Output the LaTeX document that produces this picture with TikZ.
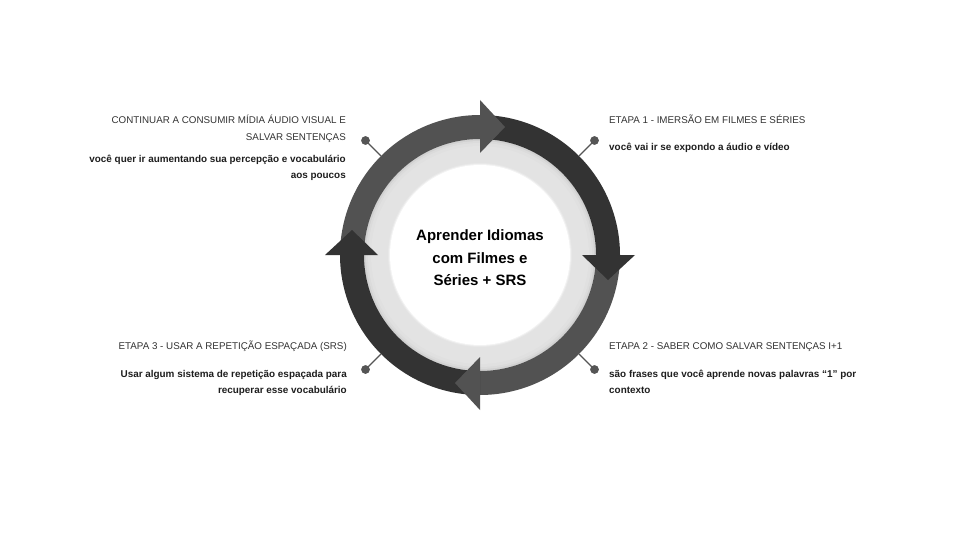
\documentclass[tikz,border=0pt]{standalone}
\usepackage{fontspec}
\setmainfont{Liberation Sans}
\usetikzlibrary{calc}
\definecolor{midgray}{HTML}{525252}
\definecolor{darkgray2}{HTML}{333333}
\definecolor{ringgray}{HTML}{E3E3E3}
\definecolor{headcol}{HTML}{333333}
\definecolor{bodycol}{HTML}{1E1E1E}
\definecolor{leadcol}{HTML}{555555}
\begin{document}
\begin{tikzpicture}[x=1pt,y=-1pt,
  headtxt/.style={font=\fontsize{9.8}{17}\selectfont, text=headcol, inner sep=0pt},
  bodytxt/.style={font=\fontsize{9.9}{16}\selectfont\bfseries, text=bodycol, inner sep=0pt},
  leaddot/.style={circle, fill=leadcol, inner sep=0pt, minimum size=8.5pt},
  leadline/.style={draw=leadcol, line width=1.4pt},
  centertxt/.style={font=\fontsize{15}{22.5}\selectfont\bfseries, text=black, align=center, inner sep=0pt}
]
\useasboundingbox[fill=white] (0,0) rectangle (960,540);
\def\cx{480}\def\cy{255}
\def\Ro{140}\def\Ri{116}\def\Rm{128}
\def\Aw{155}\def\Ai{102}\def\Tl{25}
% light ring and inner white disc
\fill[ringgray] (\cx,\cy) circle[radius=\Ri pt];
\fill[black!18] (\cx,\cy) circle[radius=116pt];
\fill[black!14] (\cx,\cy) circle[radius=114pt];
\fill[black!12] (\cx,\cy) circle[radius=112pt];
\fill[ringgray] (\cx,\cy) circle[radius=109pt];
\fill[black!9] (\cx,\cy) circle[radius=92pt];
\fill[black!5] (\cx,\cy) circle[radius=91pt];
\fill[white] (\cx,\cy) circle[radius=90pt];
% arcs
\newcommand{\ringarc}[3]{%
  \fill[#3] plot[domain=#1:#2,samples=60] ({\cx+\Ro*cos(\x)},{\cy-\Ro*sin(\x)})
     -- plot[domain=#2:#1,samples=60] ({\cx+\Ri*cos(\x)},{\cy-\Ri*sin(\x)}) -- cycle;}
\newcommand{\ringhead}[2]{%
  \fill[#2] ({\cx+\Aw*cos(#1)},{\cy-\Aw*sin(#1)})
     -- ({\cx+\Rm*cos(#1)+\Tl*cos(#1-90)},{\cy-\Rm*sin(#1)-\Tl*sin(#1-90)})
     -- ({\cx+\Ai*cos(#1)},{\cy-\Ai*sin(#1)}) -- cycle;}
\ringarc{180}{90}{midgray}
\ringarc{90}{0}{darkgray2}
\ringarc{0}{-90}{midgray}
\ringarc{-90}{-180}{darkgray2}
\ringhead{90}{midgray}
\ringhead{0}{darkgray2}
\ringhead{-90}{midgray}
\ringhead{180}{darkgray2}
% center text
\node[centertxt] (ctext) at (\cx,258) {Aprender Idiomas\\com Filmes e\\Séries + SRS};
% leaders
\node[leaddot] (d1) at (594.5,140.5) {};
\node[leaddot] (d2) at (594.5,369.5) {};
\node[leaddot] (d3) at (365.5,369.5) {};
\node[leaddot] (d4) at (365.5,140.5) {};
\coordinate (e1) at ({\cx+\Ro*cos(45)},{\cy-\Ro*sin(45)});
\coordinate (e2) at ({\cx+\Ro*cos(-45)},{\cy-\Ro*sin(-45)});
\coordinate (e3) at ({\cx+\Ro*cos(225)},{\cy-\Ro*sin(225)});
\coordinate (e4) at ({\cx+\Ro*cos(135)},{\cy-\Ro*sin(135)});
\draw[leadline] (d1.center) -- (e1);
\draw[leadline] (d2.center) -- (e2);
\draw[leadline] (d3.center) -- (e3);
\draw[leadline] (d4.center) -- (e4);
\fill[leadcol] (d1) circle[radius=4.25pt];
\fill[leadcol] (d2) circle[radius=4.25pt];
\fill[leadcol] (d3) circle[radius=4.25pt];
\fill[leadcol] (d4) circle[radius=4.25pt];
% texts upper right
\node[headtxt, anchor=base west] (h1) at (609,123.5) {ETAPA 1 - IMERSÃO EM FILMES E SÉRIES};
\node[bodytxt, anchor=base west] (b1) at (609,151) {você vai ir se expondo a áudio e vídeo};
% lower right
\node[headtxt, anchor=base west] (h2) at (609,349.5) {ETAPA 2 - SABER COMO SALVAR SENTENÇAS I+1};
\node[bodytxt, anchor=base west] (b2a) at (609,377) {são frases que você aprende novas palavras “1” por};
\node[bodytxt, anchor=base west] (b2b) at (609,393) {contexto};
% lower left
\node[headtxt, anchor=base east] (h3) at (347,349.5) {ETAPA 3 - USAR A REPETIÇÃO ESPAÇADA (SRS)};
\node[bodytxt, anchor=base east] (b3a) at (347,377) {Usar algum sistema de repetição espaçada para};
\node[bodytxt, anchor=base east] (b3b) at (347,393) {recuperar esse vocabulário};
% upper left
\node[headtxt, anchor=base east] (h4a) at (346,123.5) {CONTINUAR A CONSUMIR MÍDIA ÁUDIO VISUAL E};
\node[headtxt, anchor=base east] (h4b) at (346,140.5) {SALVAR SENTENÇAS};
\node[bodytxt, anchor=base east] (b4a) at (346,162.5) {você quer ir aumentando sua percepção e vocabulário};
\node[bodytxt, anchor=base east] (b4b) at (346,178.5) {aos poucos};
\end{tikzpicture}
\end{document}
